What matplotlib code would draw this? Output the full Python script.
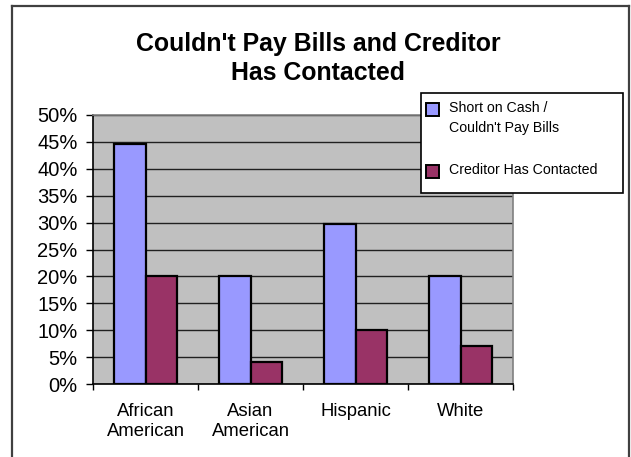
import matplotlib.pyplot as plt
from matplotlib.lines import Line2D
from matplotlib.patches import Rectangle
from matplotlib.ticker import FixedLocator, PercentFormatter
import numpy as np

categories = ["African\nAmerican", "Asian\nAmerican", "Hispanic", "White"]
short_on_cash = [44.6, 20.0, 29.7, 20.0]
creditor_contacted = [20.0, 4.1, 10.0, 7.0]
series_labels = ["Short on Cash /\nCouldn't Pay Bills", "Creditor Has Contacted"]
title = "Couldn't Pay Bills and Creditor\nHas Contacted"

blue = "#9999FF"
plum = "#993366"
W, H = 631, 457

plt.rcParams["font.family"] = ["Liberation Sans", "DejaVu Sans"]

fig = plt.figure(figsize=(W / 100, H / 100), dpi=100)
ax = fig.add_axes([93 / W, 1 - 384 / H, (513 - 93) / W, (384 - 115) / H])

x = np.arange(len(categories))
bw = 0.3
ax.bar(x - bw / 2, short_on_cash, bw, color=blue, edgecolor="black", linewidth=1.6, zorder=3)
ax.bar(x + bw / 2, creditor_contacted, bw, color=plum, edgecolor="black", linewidth=1.6, zorder=3)

ax.set_facecolor("#C0C0C0")
ax.set_xlim(-0.5, len(categories) - 0.5)
ax.set_ylim(0, 50)
ax.set_yticks(np.arange(0, 51, 5))
ax.yaxis.set_major_formatter(PercentFormatter(decimals=0))
ax.grid(axis="y", color="#202020", linewidth=1.0, zorder=1)

ax.set_xticks(x)
ax.set_xticklabels(categories, fontsize=13.3, linespacing=1.2)
ax.xaxis.set_minor_locator(FixedLocator(np.arange(-0.5, len(categories), 1.0)))
ax.tick_params(axis="x", which="major", length=0, pad=14)
ax.tick_params(axis="x", which="minor", length=4, width=1, color="black")
ax.tick_params(axis="y", length=5, width=1, color="black", labelsize=14.5, pad=6)

for side in ("top", "right"):
    ax.spines[side].set_color("#808080")
for side in ("left", "bottom"):
    ax.spines[side].set_color("black")
for sp in ax.spines.values():
    sp.set_linewidth(1.2)

fig.text(318 / W, 1 - 32 / H, title, ha="center", va="top", fontsize=17.9,
         fontweight="bold", linespacing=1.28)

# legend box, drawn in figure pixels
def px(xp, yp):
    return xp / W, 1 - yp / H

fig.patches.append(Rectangle(px(421, 193), 202 / W, 100 / H, transform=fig.transFigure,
                             facecolor="white", edgecolor="black", linewidth=1.2, zorder=5))
for (yt, color), label in zip([(103, blue), (165, plum)], series_labels):
    fig.patches.append(Rectangle(px(426, yt + 13), 13 / W, 13 / H, transform=fig.transFigure,
                                 facecolor=color, edgecolor="black", linewidth=1.4, zorder=6))
    fig.text(*px(449, yt - 2), label, ha="left", va="top", fontsize=10.2,
             linespacing=1.55, zorder=6)

# outer chart border
for xs, ys in [((12, 12), (457, 6)), ((12, 629), (6, 6)), ((629, 629), (6, 457))]:
    fig.lines.append(Line2D([v / W for v in xs], [1 - v / H for v in ys],
                            transform=fig.transFigure, color="#404040", linewidth=1.6))

fig.savefig("out.png", dpi=100)
